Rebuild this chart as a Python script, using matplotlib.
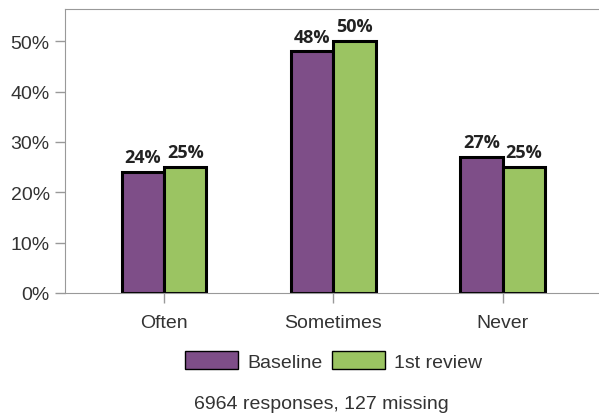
import numpy as np
import matplotlib.pyplot as plt
from matplotlib.patches import Patch

categories = ['Often', 'Sometimes', 'Never']
baseline = [24, 48, 27]
first_review = [25, 50, 25]
yticks = [0, 10, 20, 30, 40, 50]
footer = '6964 responses, 127 missing'

plt.rcParams['font.family'] = ['Liberation Sans', 'DejaVu Sans']

PURPLE = '#7e4e88'
GREEN = '#9bc462'
GREY = '#999999'
TEXT = '#333333'

fig = plt.figure(figsize=(5.99, 4.14), dpi=100)
ax = fig.add_axes([0.1085, 0.29, 0.8915, 0.686])

x = np.arange(len(categories))
w = 0.25
b1 = ax.bar(x - w / 2, baseline, w, color=PURPLE, edgecolor='black', linewidth=2.2)
b2 = ax.bar(x + w / 2, first_review, w, color=GREEN, edgecolor='black', linewidth=2.2)

# value labels above each bar
for bars, vals in ((b1, baseline), (b2, first_review)):
    for b, v in zip(bars, vals):
        ax.annotate(f'{v}%', (b.get_x() + b.get_width() / 2, v), xytext=(0, 7),
                    textcoords='offset points', ha='center', va='baseline',
                    fontsize=13, fontweight='bold', color='#222222',
                    family=['Open Sans', 'DejaVu Sans'])

ax.set_xlim(-0.585, 2.57)
ax.set_ylim(0, 56.4)
ax.set_yticks(yticks)
ax.set_yticklabels([f'{t}%' for t in yticks])
ax.set_xticks(x)
ax.set_xticklabels(categories)
ax.tick_params(axis='both', colors=GREY, labelcolor=TEXT, labelsize=14, length=7.5, width=1)
ax.tick_params(axis='y', pad=3.5)
ax.tick_params(axis='x', pad=8)

for s in ['left', 'top', 'bottom']:
    ax.spines[s].set_color(GREY)
ax.spines['right'].set_visible(False)

handles = [Patch(facecolor=PURPLE, edgecolor='black', label='Baseline'),
           Patch(facecolor=GREEN, edgecolor='black', label='1st review')]
fig.legend(handles=handles, loc='center', bbox_to_anchor=(0.557, 0.1256), ncol=2, frameon=False,
           fontsize=14, handlelength=2.73, handleheight=1.03, handletextpad=0.5, columnspacing=0.46,
           labelcolor=TEXT, borderpad=0)

fig.text(0.536, 0.024, footer, ha='center', va='center', fontsize=14, color=TEXT)

fig.savefig('out.png', dpi=100)
